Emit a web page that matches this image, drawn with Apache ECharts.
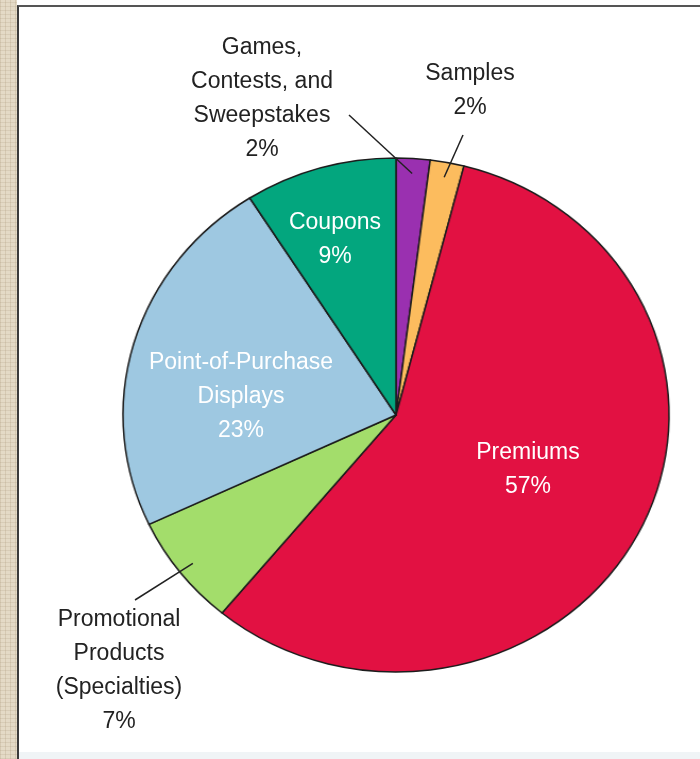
<!DOCTYPE html>
<html>
<head>
<meta charset="utf-8">
<script src="https://cdn.jsdelivr.net/npm/echarts@6/dist/echarts.min.js"></script>
<style>
  html, body { margin: 0; padding: 0; }
  body { width: 700px; height: 759px; position: relative; overflow: hidden; background: #ffffff; }
  #strip {
    position: absolute; left: 0; top: 0; width: 17px; height: 759px;
    background-color: #E4DAC6;
    background-image:
      repeating-linear-gradient(0deg, rgba(160,140,110,0.18) 0px, rgba(160,140,110,0.18) 1px, transparent 1px, transparent 4px),
      repeating-linear-gradient(90deg, rgba(170,150,120,0.25) 0px, rgba(170,150,120,0.25) 1px, transparent 1px, transparent 5px);
  }
  #panel {
    position: absolute; left: 17px; top: 5px; width: 683px; height: 754px;
    background: #ffffff; border-left: 2px solid #3a3a3a; border-top: 2px solid #555;
    box-sizing: border-box;
  }
  #bottomStrip { position: absolute; left: 19px; top: 752px; width: 681px; height: 7px; background: #F0F4F6; }
  #pieChart { position: absolute; left: 0; top: 0; width: 700px; height: 759px; transform-origin: 396px 0; }
  #labelChart { position: absolute; left: 0; top: 0; width: 700px; height: 759px; }
</style>
</head>
<body>
<div id="strip"></div>
<div id="panel"></div>
<div id="bottomStrip"></div>
<div id="pieChart"></div>
<div id="labelChart"></div>
<script>
// ---- data ----
const categories = [
  'Games,\nContests, and\nSweepstakes',
  'Samples',
  'Premiums',
  'Promotional\nProducts\n(Specialties)',
  'Point-of-Purchase\nDisplays',
  'Coupons'
];
const values = [2, 2, 57, 7, 23, 9];

// ---- styling / layout config (not data) ----
const colors = ['#9A30B0', '#FCBC5E', '#E21142', '#A3DD6B', '#9EC8E1', '#03A67E'];
const insideLabel = [false, false, true, false, true, true];
const labelPos = [[262, 99], [470, 91], [528, 470], [119, 671], [241, 397], [335, 240]];
const lineAnchor = [[87, 16], [-7, 44], null, [16, -71], null, null];

const PIE_CENTER = [396, 415];
const PIE_RADIUS = 257;
const STRETCH_X = 273 / 257;   // the original pie is slightly elliptical (wider than tall)
const FONT = 'Liberation Sans, Arial, sans-serif';

document.getElementById('pieChart').style.transform = 'scaleX(' + STRETCH_X + ')';

const pieChart = echarts.init(document.getElementById('pieChart'), null, { renderer: 'canvas' });
const labelChart = echarts.init(document.getElementById('labelChart'), null, { renderer: 'canvas' });

// coloured slices
pieChart.setOption({
  animation: false,
  backgroundColor: 'transparent',
  series: [{
    type: 'pie',
    center: PIE_CENTER,
    radius: PIE_RADIUS,
    startAngle: 90,
    clockwise: true,
    silent: true,
    itemStyle: { borderColor: '#1c1c1c', borderWidth: 1.5 },
    label: { show: false },
    labelLine: { show: false },
    data: categories.map((name, i) => ({ name: name, value: values[i], itemStyle: { color: colors[i] } }))
  }]
});

// transparent overlay pie carrying labels and leader lines
labelChart.setOption({
  animation: false,
  backgroundColor: 'transparent',
  series: [{
    type: 'pie',
    center: PIE_CENTER,
    radius: PIE_RADIUS,
    startAngle: 90,
    clockwise: true,
    silent: true,
    avoidLabelOverlap: false,
    itemStyle: { color: 'rgba(0,0,0,0)', borderWidth: 0 },
    label: {
      formatter: p => p.name + '\n' + p.value + '%',
      fontFamily: FONT,
      fontSize: 23,
      lineHeight: 34,
      align: 'center'
    },
    labelLine: { length: 20, length2: 10, lineStyle: { color: '#222', width: 1.5 } },
    labelLayout: function (p) {
      const i = p.dataIndex;
      const pos = labelPos[i];
      const out = { x: pos[0], y: pos[1], align: 'center', verticalAlign: 'middle' };
      const a = lineAnchor[i];
      if (a && p.labelLinePoints) {
        const s = p.labelLinePoints[0], n = p.labelLinePoints[1];
        const dx = n[0] - s[0], dy = n[1] - s[1];
        const L = Math.hypot(dx, dy) || 1;
        let sx = s[0] - dx / L * 15, sy = s[1] - dy / L * 15;
        sx = PIE_CENTER[0] + (sx - PIE_CENTER[0]) * STRETCH_X;
        const end = [pos[0] + a[0], pos[1] + a[1]];
        out.labelLinePoints = [[sx, sy], end, end];
      }
      return out;
    },
    data: categories.map((name, i) => ({
      name: name,
      value: values[i],
      label: {
        show: true,
        position: insideLabel[i] ? 'inside' : 'outside',
        color: insideLabel[i] ? '#ffffff' : '#222222'
      },
      labelLine: { show: !insideLabel[i] }
    }))
  }]
});
</script>
</body>
</html>
